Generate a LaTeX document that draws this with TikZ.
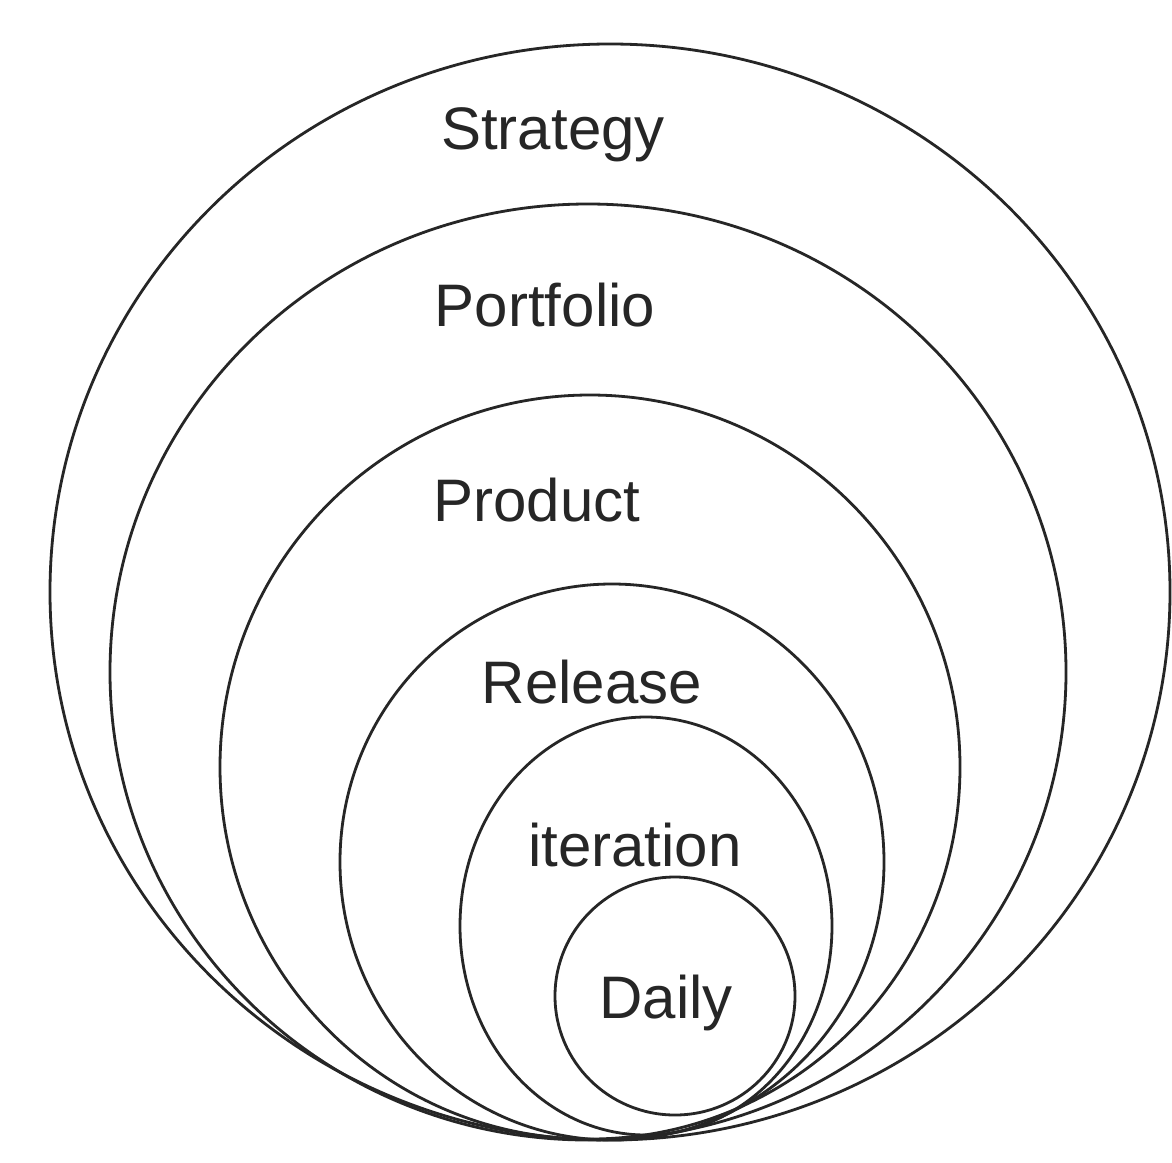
\documentclass[tikz,border=0pt]{standalone}
\usepackage{fontspec}
\setmainfont{Liberation Sans}
\begin{document}
\begin{tikzpicture}[x=0.5pt,y=-0.5pt,
  ring/.style={draw=black!85, line width=1.4pt},
  lbl/.style={font=\fontsize{30}{34}\selectfont, text=black!85}]
  \useasboundingbox[fill=white] (0,0) rectangle (1172,1162);
  % nested levels, all touching near the bottom
  \draw[ring] (610,592) ellipse [x radius=560, y radius=548];
  \draw[ring] (588,672) ellipse [x radius=478, y radius=468];
  \draw[ring] (590,767) ellipse [x radius=370, y radius=372];
  \draw[ring] (612,862) ellipse [x radius=272, y radius=278];
  \draw[ring] (646,926) ellipse [x radius=186, y radius=209];
  \draw[ring] (675,996) ellipse [x radius=120, y radius=119];
  % level names
  \node[lbl] (strategy) at (553,135) {Strategy};
  \node[lbl] (portfolio) at (545,305) {Portfolio};
  \node[lbl] (product) at (537,500) {Product};
  \node[lbl] (release) at (592,682) {Release};
  \node[lbl] (iteration) at (635,845) {iteration};
  \node[lbl] (daily) at (666,1003) {Daily};
\end{tikzpicture}
\end{document}
